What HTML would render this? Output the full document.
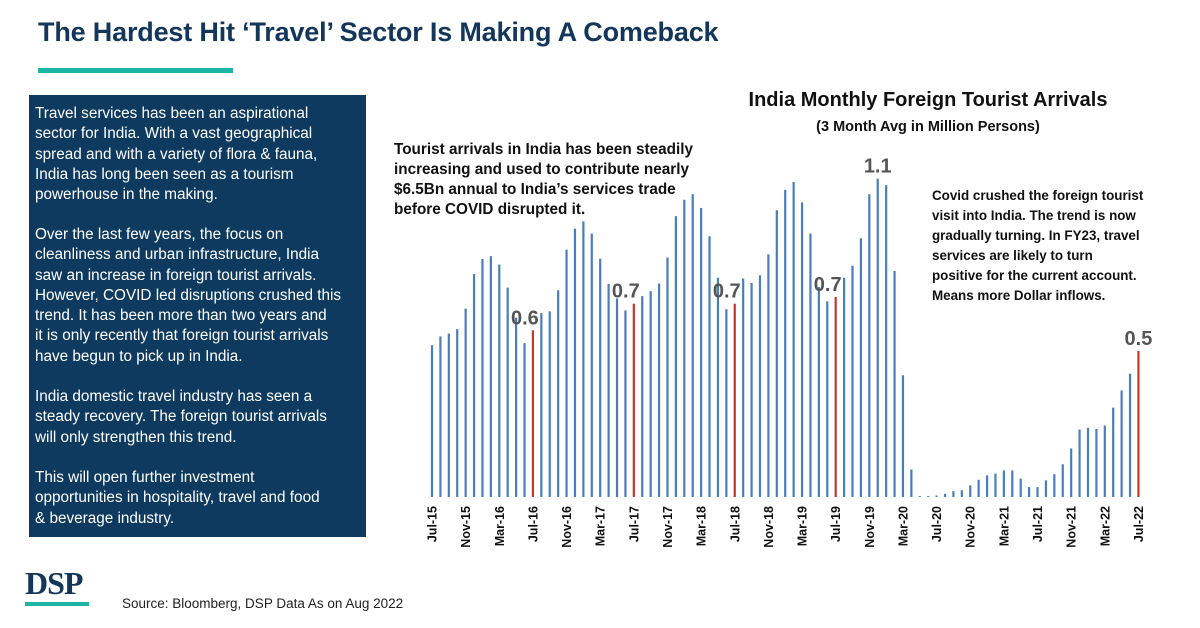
<!DOCTYPE html>
<html><head><meta charset="utf-8">
<style>
body{margin:0;width:1200px;height:628px;background:#fff;position:relative;overflow:hidden;font-family:"Liberation Sans",sans-serif}
.abs{position:absolute}
#title{left:38px;top:17px;font-size:27px;font-weight:bold;color:#14365a;white-space:nowrap;letter-spacing:-0.18px}
#teal{left:38px;top:68px;width:195px;height:5px;background:#1fb5a5}
#box{left:29px;top:95px;width:337px;height:442px;background:#0f3a5f}
#box div{position:absolute;left:6px;color:#fff;font-size:15.3px;line-height:20.3px;white-space:nowrap}
.ann{font-weight:bold;line-height:20px;color:#111;white-space:nowrap}
</style></head><body>
<div id="title" class="abs">The Hardest Hit ‘Travel’ Sector Is Making A Comeback</div>
<div id="teal" class="abs"></div>
<div id="box" class="abs">
<div style="top:9px">Travel services has been an aspirational<br>sector for India. With a vast geographical<br>spread and with a variety of flora &amp; fauna,<br>India has long been seen as a tourism<br>powerhouse in the making.</div>
<div style="top:130px">Over the last few years, the focus on<br>cleanliness and urban infrastructure, India<br>saw an increase in foreign tourist arrivals.<br>However, COVID led disruptions crushed this<br>trend. It has been more than two years and<br>it is only recently that foreign tourist arrivals<br>have begun to pick up in India.</div>
<div style="top:292px">India domestic travel industry has seen a<br>steady recovery. The foreign tourist arrivals<br>will only strengthen this trend.</div>
<div style="top:373px">This will open further investment<br>opportunities in hospitality, travel and food<br>&amp; beverage industry.</div>
</div>
<div class="abs" style="left:25px;top:565px;font-family:'Liberation Serif',serif;font-weight:bold;font-size:32px;color:#14365a;letter-spacing:-1px">DSP</div>
<div class="abs" style="left:25px;top:602px;width:64px;height:4px;background:#1fb5a5"></div>
<div class="abs" style="left:122px;top:596px;font-size:13.5px;color:#222">Source: Bloomberg, DSP Data As on Aug 2022</div>
<div class="abs" style="left:700px;top:89px;width:456px;text-align:center;font-size:20px;font-weight:bold;color:#111">India Monthly Foreign Tourist Arrivals</div>
<div class="abs" style="left:700px;top:119px;width:456px;text-align:center;font-size:14.5px;font-weight:bold;color:#111">(3 Month Avg in Million Persons)</div>
<div class="abs ann" style="left:394px;top:140px;font-size:15.3px">Tourist arrivals in India has been steadily<br>increasing and used to contribute nearly<br>$6.5Bn annual to India’s services trade<br>before COVID disrupted it.</div>
<div class="abs ann" style="left:932px;top:186px;font-size:13.4px">Covid crushed the foreign tourist<br>visit into India. The trend is now<br>gradually turning. In FY23, travel<br>services are likely to turn<br>positive for the current account.<br>Means more Dollar inflows.</div>
<svg class="abs" style="left:0;top:0" width="1200" height="628">
<g id="bars"></g><g id="labels"></g><g id="xticks"></g>
</svg>
<script>
const months = ["Jul","Aug","Sep","Oct","Nov","Dec","Jan","Feb","Mar","Apr","May","Jun"];
const startYear = 15;
const values = [0.52,0.55,0.56,0.575,0.645,0.764,0.815,0.825,0.796,0.717,0.614,0.527,
0.571,0.63,0.636,0.708,0.847,0.919,0.944,0.902,0.816,0.73,0.68,0.639,
0.662,0.688,0.705,0.731,0.82,0.962,1.018,1.037,0.99,0.893,0.751,0.643,
0.662,0.748,0.733,0.759,0.831,0.982,1.052,1.079,1.009,0.902,0.719,0.67,
0.685,0.751,0.792,0.886,1.037,1.09,1.068,0.774,0.417,0.094,0.003,0.003,
0.005,0.011,0.02,0.023,0.04,0.059,0.074,0.08,0.091,0.091,0.063,0.034,
0.034,0.057,0.078,0.112,0.166,0.231,0.237,0.233,0.245,0.306,0.365,0.422,0.5];
const labelIdx = [12,24,36,48,53,84];
const labelText = ["0.6","0.7","0.7","0.7","1.1","0.5"];
const redIdx = [12,24,36,48,84];
const x0=432, step=8.41, base=497, scale=292;
const xs = i => x0 + i*step;
const ys = v => base - v*scale;
const NS="http://www.w3.org/2000/svg";
const gb=document.getElementById('bars'), gl=document.getElementById('labels'), gx=document.getElementById('xticks');
values.forEach((v,i)=>{
  const r=document.createElementNS(NS,'rect');
  r.setAttribute('x',xs(i)-1.1);r.setAttribute('width',2.2);
  r.setAttribute('y',ys(v));r.setAttribute('height',Math.max(base-ys(v),0.8));
  r.setAttribute('fill', redIdx.includes(i) ? '#c0392b' : '#4a7ebb');
  
  
  gb.appendChild(r);
  if(i%4===0){
    const t=document.createElementNS(NS,'text');
    const lab=months[i%12]+'-'+(startYear+Math.floor((i+6)/12));
    t.textContent=lab;
    t.setAttribute('transform','translate('+(xs(i)+4.5)+',506) rotate(-90)');
    t.setAttribute('text-anchor','end');t.setAttribute('font-size','12.5');t.setAttribute('font-weight','bold');t.setAttribute('fill','#111');
    
    
    gx.appendChild(t);
  }
});
labelIdx.forEach((i,k)=>{
  const t=document.createElementNS(NS,'text');
  t.textContent=labelText[k];
  const lx = (i===53||i===84) ? xs(i) : xs(i)-8;
  t.setAttribute('x',lx);t.setAttribute('y',ys(values[i])-6);
  t.setAttribute('text-anchor','middle');t.setAttribute('font-size','20');t.setAttribute('font-weight','bold');t.setAttribute('fill','#555');
  
  
  gl.appendChild(t);
});
</script>
</body></html>
